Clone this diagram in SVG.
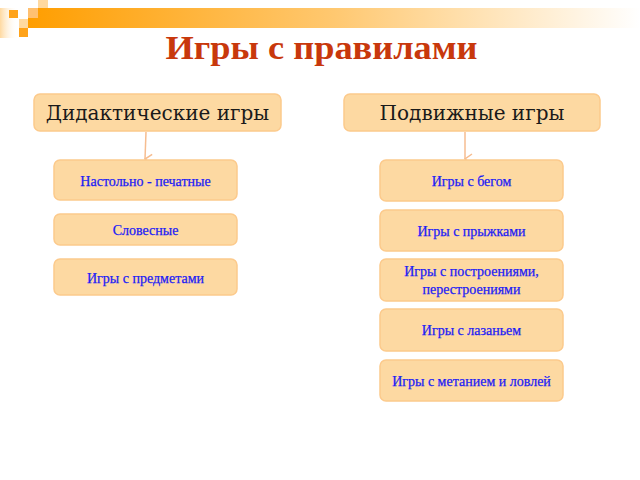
<svg xmlns="http://www.w3.org/2000/svg" width="640" height="480" viewBox="0 0 640 480">
<defs>
<linearGradient id="bar" x1="0" y1="0" x2="1" y2="0">
<stop offset="0" stop-color="#ff9e00"/>
<stop offset="0.5" stop-color="#ffc870"/>
<stop offset="1" stop-color="#ffffff"/>
</linearGradient>
<linearGradient id="vbar" x1="0" y1="0" x2="1" y2="0">
<stop offset="0" stop-color="#ffd9a0"/>
<stop offset="1" stop-color="#ffffff" stop-opacity="0"/>
</linearGradient>
<marker id="arr" viewBox="0 0 12 10" refX="6" refY="9" markerWidth="12" markerHeight="10" markerUnits="userSpaceOnUse" orient="auto-start-reverse">
<path d="M1,2 L6,9 L11,2" fill="none" stroke="#f6bd90" stroke-width="1.5"/>
</marker>
<style>
.hdr{fill:#fdd9a2;stroke:#fcca8c;stroke-width:1.5}
.box{fill:#fdd9a2;stroke:#fcca8c;stroke-width:1.5}
.ht{font-family:"DejaVu Serif",serif;font-size:20px;fill:#1a1a1a;text-anchor:middle}
.bt{font-family:"Liberation Serif","Times New Roman",serif;font-size:14px;fill:#1c1cf5;stroke:#1c1cf5;stroke-width:0.25;text-anchor:middle}
.con{stroke:#f6bd90;stroke-width:1.5;fill:none}
</style>
</defs>
<rect x="0" y="0" width="640" height="480" fill="#ffffff"/>
<g id="decor">
<rect x="0" y="8" width="18" height="30" fill="url(#vbar)"/>
<rect x="28" y="8" width="612" height="20" fill="url(#bar)"/>
<rect x="38" y="0" width="10" height="8" fill="#ffd9a0"/>
<rect x="9" y="10" width="9" height="8" fill="#ffa31a"/>
<rect x="28" y="8" width="10" height="10" fill="#ffc070"/>
<rect x="19" y="19" width="9" height="9" fill="#ffd9a0"/>
<rect x="19" y="28" width="9" height="9" fill="#ffa31a"/>
</g>
<text id="title" x="321.5" y="59" font-family="Liberation Serif,Times New Roman,serif" font-weight="bold" font-size="34" fill="#c8380c" text-anchor="middle" textLength="312" lengthAdjust="spacingAndGlyphs">Игры с правилами</text>
<g id="connectors">
<line class="con" x1="146" y1="132" x2="145" y2="159" marker-end="url(#arr)"/>
<line class="con" x1="465" y1="132" x2="465" y2="159" marker-end="url(#arr)"/>
</g>
<g id="n-didactic">
<rect class="hdr" x="34" y="94" width="247" height="37" rx="6"/>
<text class="ht" x="157.5" y="120">Дидактические игры</text>
</g>
<g id="n-active">
<rect class="hdr" x="344" y="94" width="256" height="37" rx="6"/>
<text class="ht" x="472" y="120">Подвижные игры</text>
</g>
<g id="n-board">
<rect class="box" x="54" y="160" width="183" height="40" rx="6"/>
<text class="bt" x="145.5" y="186">Настольно - печатные</text>
</g>
<g id="n-verbal">
<rect class="box" x="54" y="214" width="183" height="31" rx="6"/>
<text class="bt" x="145.5" y="235">Словесные</text>
</g>
<g id="n-objects">
<rect class="box" x="54" y="259" width="183" height="36" rx="6"/>
<text class="bt" x="145.5" y="283">Игры с предметами</text>
</g>
<g id="n-run">
<rect class="box" x="380" y="160" width="183" height="41" rx="6"/>
<text class="bt" x="471.5" y="186">Игры с бегом</text>
</g>
<g id="n-jump">
<rect class="box" x="380" y="210" width="183" height="41" rx="6"/>
<text class="bt" x="471.5" y="236">Игры с прыжками</text>
</g>
<g id="n-build">
<rect class="box" x="380" y="259" width="183" height="42" rx="6"/>
<text class="bt" x="471.5" y="276">Игры с построениями,</text>
<text class="bt" x="471.5" y="294">перестроениями</text>
</g>
<g id="n-climb">
<rect class="box" x="380" y="309" width="183" height="42" rx="6"/>
<text class="bt" x="471.5" y="335">Игры с лазаньем</text>
</g>
<g id="n-throw">
<rect class="box" x="380" y="360" width="183" height="41" rx="6"/>
<text class="bt" x="471.5" y="386">Игры с метанием и ловлей</text>
</g>
</svg>
